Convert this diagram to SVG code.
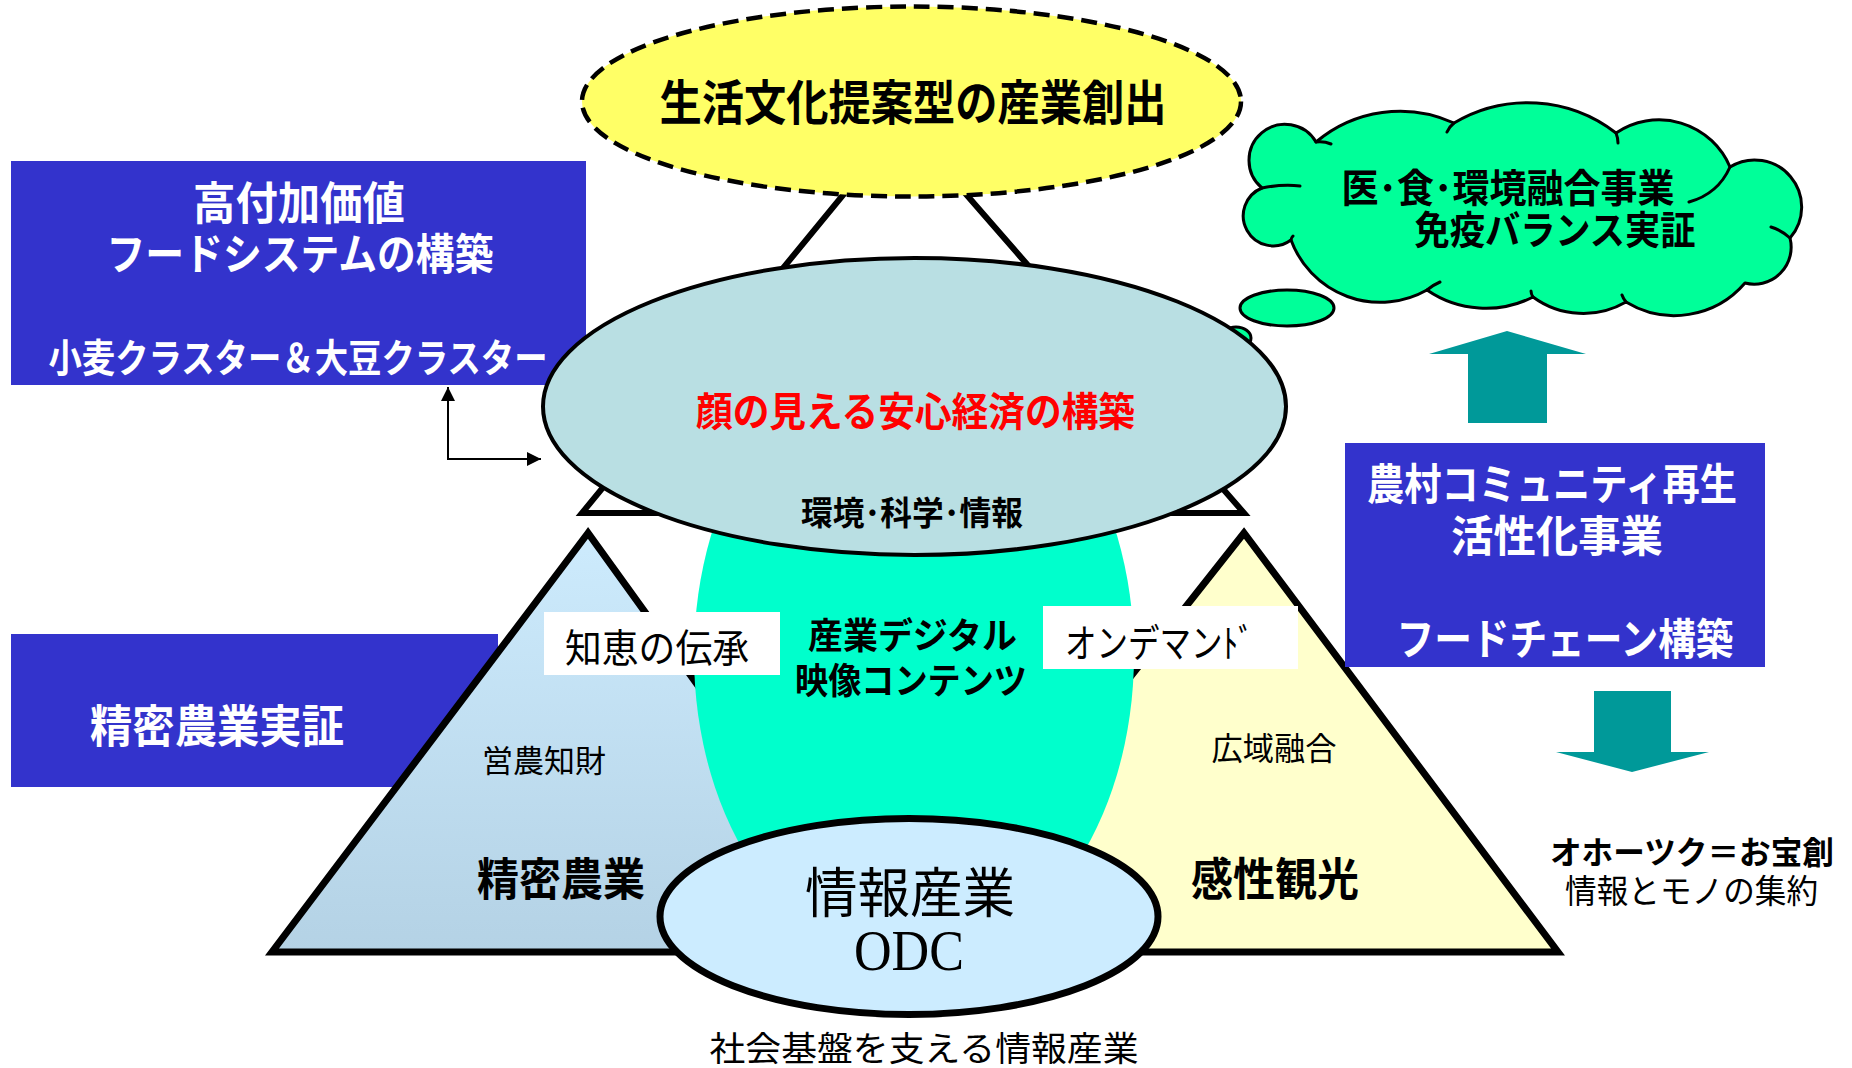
<svg xmlns="http://www.w3.org/2000/svg" width="1852" height="1068" viewBox="0 0 1852 1068">
<defs>
<style>
.t{font-family:"Noto Sans CJK JP","Noto Sans CJK SC",sans-serif;text-anchor:middle;dominant-baseline:central}
.b{font-weight:700}
.w{fill:#FFFFFF}
.k{fill:#000000}
.box{fill:#3333CC}
.lbl{fill:#FFFFFF}
.arr{fill:#009999}
</style>
<linearGradient id="gl" x1="0" y1="533" x2="0" y2="952" gradientUnits="userSpaceOnUse">
<stop offset="0" stop-color="#CDEBFD"/>
<stop offset="1" stop-color="#B4D2E5"/>
</linearGradient>
<marker id="ah" viewBox="0 0 10 10" refX="10" refY="5" markerWidth="14" markerHeight="14" markerUnits="userSpaceOnUse" orient="auto-start-reverse">
<path d="M0,0 L10,5 L0,10 Z" fill="#000"/>
</marker>
</defs>
<rect width="1852" height="1068" fill="#FFFFFF"/>

<g id="box-food-system">
<rect class="box" x="11" y="161" width="575" height="224"/>
<text class="t b w" x="299" y="200" font-size="45" textLength="212" lengthAdjust="spacingAndGlyphs">高付加価値</text>
<text class="t b w" x="300" y="251" font-size="43" textLength="387" lengthAdjust="spacingAndGlyphs">フードシステムの構築</text>
<text class="t b w" x="298" y="355" font-size="39" textLength="499" lengthAdjust="spacingAndGlyphs">小麦クラスター＆大豆クラスター</text>
</g>

<g id="box-precision">
<rect class="box" x="11" y="634" width="487" height="153"/>
<text class="t b w" x="217" y="723" font-size="45" textLength="254" lengthAdjust="spacingAndGlyphs">精密農業実証</text>
</g>

<g id="top-triangle">
<path d="M903,122 L582,513 L1244,513 Z" fill="#FFFFFF" stroke="#000" stroke-width="6" stroke-linejoin="miter"/>
</g>

<g id="lifestyle-ellipse">
<ellipse cx="911.5" cy="101.5" rx="329.5" ry="95" fill="#FFFF66" stroke="#000" stroke-width="4.5" stroke-dasharray="16 8"/>
<text class="t b k" x="913" y="99" font-size="48" textLength="507" lengthAdjust="spacingAndGlyphs">生活文化提案型の産業創出</text>
</g>

<g id="triangle-precision-agri">
<path d="M588,533 L272,952 L890,952 Z" fill="url(#gl)" stroke="#000" stroke-width="7"/>
</g>

<g id="triangle-tourism">
<path d="M1244,533 L913,952 L1558,952 Z" fill="#FFFFCC" stroke="#000" stroke-width="7"/>
</g>

<g id="digital-content">
<ellipse cx="914" cy="655" rx="220" ry="310" fill="#00FFCC"/>
</g>

<g id="cloud">
<ellipse cx="1236" cy="338" rx="15" ry="11" fill="#00FF99" stroke="#000" stroke-width="3"/>
<ellipse cx="1287" cy="308" rx="47" ry="18" fill="#00FF99" stroke="#000" stroke-width="3"/>
<path d="M1262,188 A36,36 0 1 1 1316,142 A130,130 0 0 1 1454,123 A144,144 0 0 1 1616,133 A77,77 0 0 1 1730,167 A47,47 0 0 1 1790,238 A37,37 0 0 1 1745,283 A93,93 0 0 1 1626,302 A85,85 0 0 1 1533,297 A104,104 0 0 1 1427,290 A95,95 0 0 1 1291,240 A30,30 0 1 1 1262,188 Z" fill="#00FF99" stroke="#000" stroke-width="3" stroke-linejoin="round"/>
<path d="M1262,188 Q1282,184 1300,186 M1316,142 Q1324,141 1331,144 M1454,123 Q1449,127 1447,132 M1616,133 Q1618,138 1618,143 M1730,167 Q1718,194 1689,202 M1790,238 Q1781,230 1771,227 M1626,302 Q1623,298 1622,295 M1533,297 Q1531,294 1531,291 M1427,290 Q1433,285 1440,282 M1291,240 Q1291,238 1293,236" fill="none" stroke="#000" stroke-width="3" stroke-linecap="round"/>
<text class="t b k" x="1508" y="185" font-size="39" textLength="333" lengthAdjust="spacingAndGlyphs">医･食･環境融合事業</text>
<text class="t b k" x="1555" y="227" font-size="39" textLength="281" lengthAdjust="spacingAndGlyphs">免疫バランス実証</text>
</g>

<g id="safe-economy">
<ellipse cx="914.5" cy="406.5" rx="371.5" ry="148.5" fill="#B9DFE3" stroke="#000" stroke-width="4"/>
<text class="t b" x="915.5" y="409" font-size="40" fill="#FF0000" textLength="439" lengthAdjust="spacingAndGlyphs">顔の見える安心経済の構築</text>
<text class="t b k" x="912" y="511" font-size="33" textLength="222" lengthAdjust="spacingAndGlyphs">環境･科学･情報</text>
</g>

<g id="label-wisdom">
<rect class="lbl" x="544" y="612" width="236" height="63"/>
<text class="t k" x="657" y="645" font-size="39" textLength="184" lengthAdjust="spacingAndGlyphs">知恵の伝承</text>
</g>

<g id="label-ondemand">
<rect class="lbl" x="1043" y="606" width="255" height="63"/>
<text class="t k" x="1159.5" y="640" font-size="39" textLength="189" lengthAdjust="spacingAndGlyphs">オンデマンﾄﾞ</text>
</g>

<g id="digital-content-text">
<text class="t b k" x="912.5" y="633" font-size="36" textLength="209" lengthAdjust="spacingAndGlyphs">産業デジタル</text>
<text class="t b k" x="911" y="678" font-size="36" textLength="232" lengthAdjust="spacingAndGlyphs">映像コンテンツ</text>
</g>

<g id="precision-agri-text">
<text class="t k" x="544" y="758" font-size="31" textLength="124" lengthAdjust="spacingAndGlyphs">営農知財</text>
<text class="t b k" x="561" y="876" font-size="45" textLength="168" lengthAdjust="spacingAndGlyphs">精密農業</text>
</g>

<g id="tourism-text">
<text class="t k" x="1274" y="746" font-size="32" textLength="125" lengthAdjust="spacingAndGlyphs">広域融合</text>
<text class="t b k" x="1275" y="876" font-size="45" textLength="168" lengthAdjust="spacingAndGlyphs">感性観光</text>
</g>

<g id="odc">
<ellipse cx="909" cy="916.5" rx="249" ry="98" fill="#CCECFF" stroke="#000" stroke-width="7"/>
<text class="t k" x="910" y="889" font-size="54" textLength="210" lengthAdjust="spacingAndGlyphs">情報産業</text>
<text x="909" y="970" font-family="'Liberation Serif','Times New Roman',serif" font-size="56" text-anchor="middle" fill="#000" textLength="110" lengthAdjust="spacingAndGlyphs">ODC</text>
</g>

<g id="caption-bottom">
<text class="t k" x="924" y="1046" font-size="34" textLength="429" lengthAdjust="spacingAndGlyphs">社会基盤を支える情報産業</text>
</g>

<g id="box-rural">
<rect class="box" x="1345" y="443" width="420" height="224"/>
<text class="t b w" x="1552" y="481" font-size="43" textLength="370" lengthAdjust="spacingAndGlyphs">農村コミュニティ再生</text>
<text class="t b w" x="1557" y="533" font-size="43" textLength="212" lengthAdjust="spacingAndGlyphs">活性化事業</text>
<text class="t b w" x="1565" y="636" font-size="43" textLength="337" lengthAdjust="spacingAndGlyphs">フードチェーン構築</text>
</g>

<g id="okhotsk">
<text class="t b k" x="1692" y="850" font-size="32" textLength="284" lengthAdjust="spacingAndGlyphs">オホーツク＝お宝創</text>
<text class="t k" x="1691.5" y="889" font-size="33" textLength="253" lengthAdjust="spacingAndGlyphs">情報とモノの集約</text>
</g>

<g id="connectors">
<path d="M448,387 L448,459 L541,459" fill="none" stroke="#000" stroke-width="2" marker-start="url(#ah)" marker-end="url(#ah)"/>
<path class="arr" d="M1507,331 L1586,354 L1547,354 L1547,423 L1468,423 L1468,354 L1429,354 Z"/>
<path class="arr" d="M1594,691 L1671,691 L1671,752 L1709,752 L1632,772 L1556,752 L1594,752 Z"/>
</g>
</svg>
